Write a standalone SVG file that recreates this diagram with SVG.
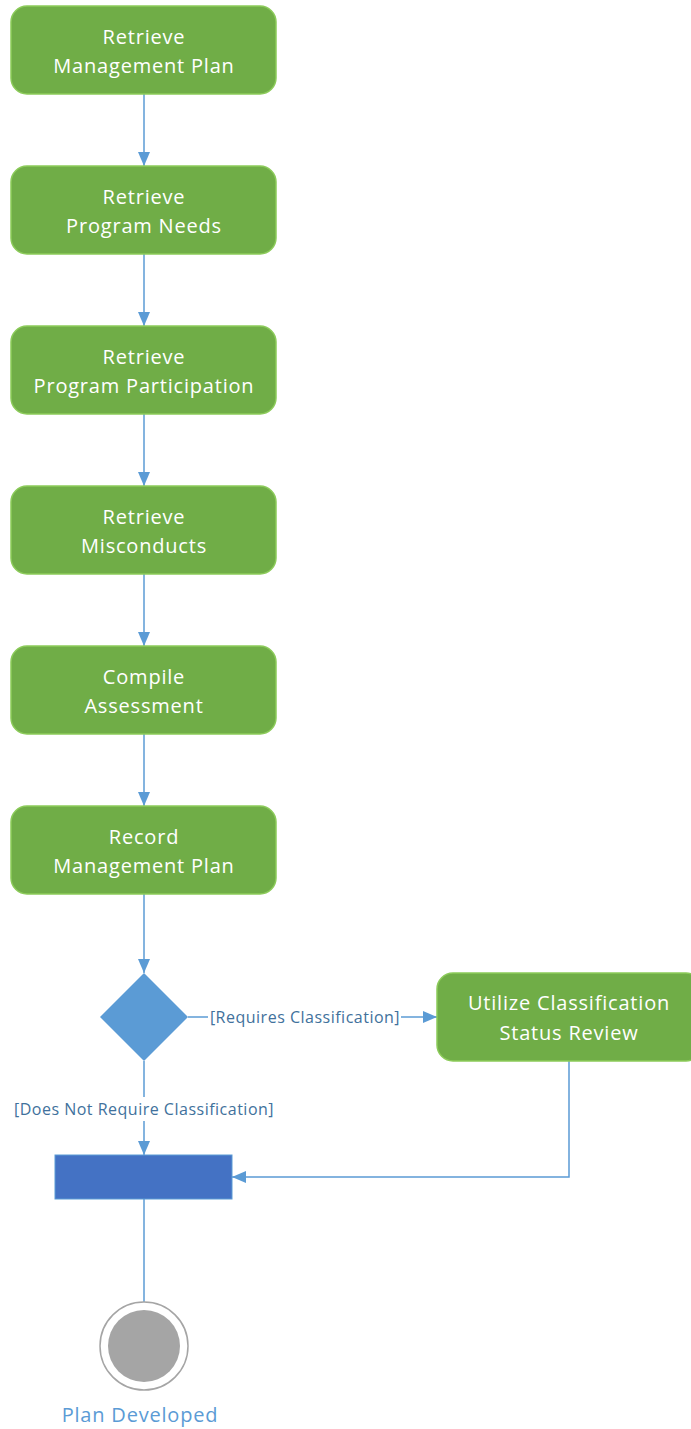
<svg xmlns="http://www.w3.org/2000/svg" width="691" height="1429" viewBox="0 0 691 1429">
<style>
.act{fill:#70AD47;stroke:#8CCB5A;stroke-width:1.5}
.t{font-family:"Open Sans","Noto Sans",sans-serif;font-size:20px;letter-spacing:0.8px;fill:#FFFFFF;text-anchor:middle}
.lbl{font-family:"Open Sans","Noto Sans",sans-serif;font-size:16px;letter-spacing:0.5px;fill:#41719C}
.c{fill:none;stroke:#5B9BD5;stroke-width:1.5}
</style>
<defs>
<marker id="ah" viewBox="0 0 14 12" refX="14" refY="6" markerWidth="14" markerHeight="12" markerUnits="userSpaceOnUse" orient="auto">
<path d="M0,0 L14,6 L0,12 Z" fill="#5B9BD5"/>
</marker>
</defs>
<g id="connectors">
<path class="c" d="M144,94 V166" marker-end="url(#ah)"/>
<path class="c" d="M144,254 V326" marker-end="url(#ah)"/>
<path class="c" d="M144,414 V486" marker-end="url(#ah)"/>
<path class="c" d="M144,574 V646" marker-end="url(#ah)"/>
<path class="c" d="M144,734 V806" marker-end="url(#ah)"/>
<path class="c" d="M144,894 V973" marker-end="url(#ah)"/>
<path class="c" d="M188,1017 H208"/>
<path class="c" d="M401,1017 H437" marker-end="url(#ah)"/>
<text class="lbl" x="305" y="1023" text-anchor="middle">[Requires Classification]</text>
<path class="c" d="M144,1061 V1097"/>
<path class="c" d="M144,1121 V1155" marker-end="url(#ah)"/>
<text class="lbl" x="144" y="1115" text-anchor="middle">[Does Not Require Classification]</text>
<path class="c" d="M569,1061 V1177 H232" marker-end="url(#ah)"/>
<path class="c" d="M144,1199 V1302"/>
</g>
<g id="n1"><rect class="act" x="11" y="6" width="265" height="88" rx="16"/><text class="t" x="144" y="44">Retrieve</text><text class="t" x="144" y="73">Management Plan</text></g>
<g id="n2"><rect class="act" x="11" y="166" width="265" height="88" rx="16"/><text class="t" x="144" y="204">Retrieve</text><text class="t" x="144" y="233">Program Needs</text></g>
<g id="n3"><rect class="act" x="11" y="326" width="265" height="88" rx="16"/><text class="t" x="144" y="364">Retrieve</text><text class="t" x="144" y="393">Program Participation</text></g>
<g id="n4"><rect class="act" x="11" y="486" width="265" height="88" rx="16"/><text class="t" x="144" y="524">Retrieve</text><text class="t" x="144" y="553">Misconducts</text></g>
<g id="n5"><rect class="act" x="11" y="646" width="265" height="88" rx="16"/><text class="t" x="144" y="684">Compile</text><text class="t" x="144" y="713">Assessment</text></g>
<g id="n6"><rect class="act" x="11" y="806" width="265" height="88" rx="16"/><text class="t" x="144" y="844">Record</text><text class="t" x="144" y="873">Management Plan</text></g>
<g id="decision"><path d="M144,973 L188,1017 L144,1061 L100,1017 Z" fill="#5B9BD5"/></g>
<g id="n7"><rect class="act" x="437" y="973" width="265" height="88" rx="16"/><text class="t" x="569" y="1010">Utilize Classification</text><text class="t" x="569" y="1040">Status Review</text></g>
<g id="merge"><rect x="55" y="1155" width="177" height="44" fill="#4472C4" stroke="#5B9BD5" stroke-width="1"/></g>
<g id="final"><circle cx="144" cy="1346" r="44" fill="#FFFFFF" stroke="#A5A5A5" stroke-width="1.5"/><circle cx="144" cy="1346" r="36" fill="#A5A5A5"/><text x="140" y="1422" font-family="'Open Sans','Noto Sans',sans-serif" font-size="20" letter-spacing="0.8" fill="#5B9BD5" text-anchor="middle">Plan Developed</text></g>
</svg>
